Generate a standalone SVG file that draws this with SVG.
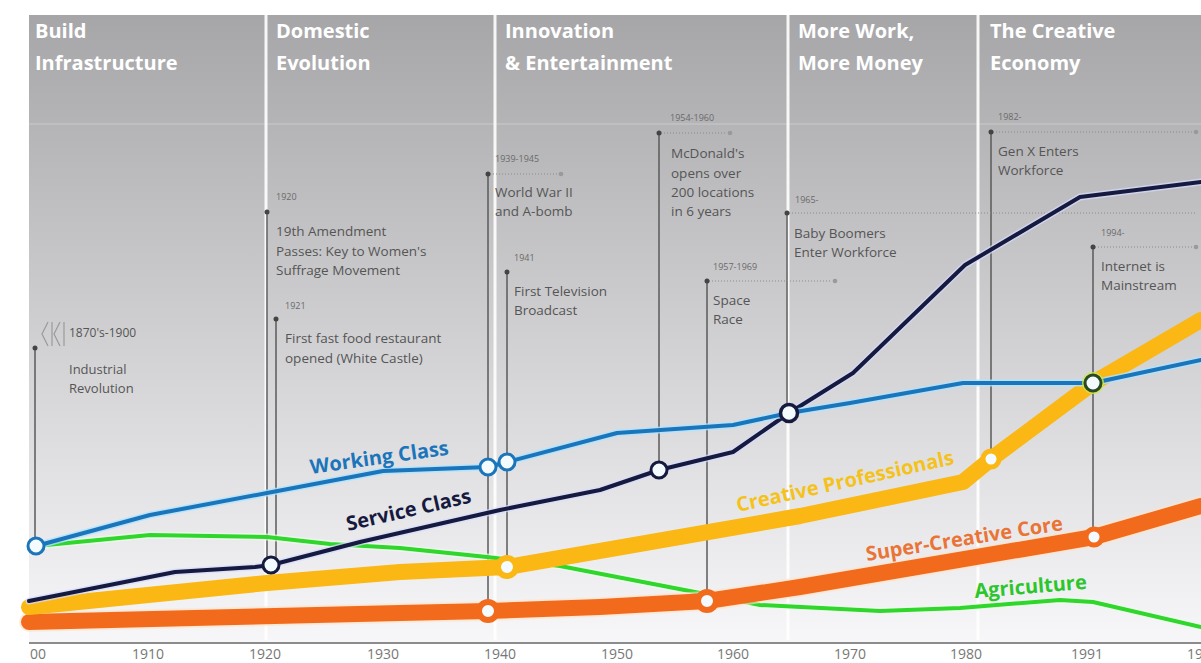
<svg xmlns="http://www.w3.org/2000/svg" width="1201" height="663" viewBox="0 0 1201 663">
<defs>
<linearGradient id="bg" x1="0" y1="15" x2="0" y2="642" gradientUnits="userSpaceOnUse">
<stop offset="0" stop-color="#a6a6a8"/>
<stop offset="0.35" stop-color="#c3c3c5"/>
<stop offset="0.7" stop-color="#dfdfe1"/>
<stop offset="1" stop-color="#f7f7f9"/>
</linearGradient>
</defs>
<style>
.era{font-family:"Open Sans",sans-serif;font-weight:700;font-size:20px;fill:#ffffff}
.eraline{stroke:#ffffff;stroke-width:3;opacity:0.9}
.date{font-family:"Open Sans",sans-serif;font-size:9px;fill:#6a6a6a}
.lbl{font-family:"Open Sans",sans-serif;font-size:13.5px;fill:#555}
.vline{stroke:#5a5a5a;stroke-width:1.5;fill:none}
.dot{fill:#444}
.dash{stroke:#8a8a8a;stroke-width:1;stroke-dasharray:1 2;fill:none}
.edot{fill:#999}
.series{fill:none;stroke-linejoin:round;stroke-linecap:round}
.clbl{font-family:"Open Sans",sans-serif;font-weight:700;font-size:20px}
.axis{font-family:"Open Sans",sans-serif;font-size:14px;fill:#777}
.mk{fill:#f4fbff}
</style>
<rect x="0" y="0" width="1201" height="663" fill="#ffffff"/>
<rect id="background" x="29" y="15" width="1172" height="627" fill="url(#bg)"/>
<line x1="29" y1="124" x2="1201" y2="124" stroke="#ffffff" stroke-width="2" opacity="0.15"/>

<g id="eras">
<line class="eraline" x1="266" y1="15" x2="266" y2="640"/>
<line class="eraline" x1="495" y1="15" x2="495" y2="640"/>
<line class="eraline" x1="788" y1="15" x2="788" y2="640"/>
<line class="eraline" x1="978" y1="15" x2="978" y2="640"/>
<g id="era-build"><text class="era" x="35" y="38">Build</text><text class="era" x="35" y="70">Infrastructure</text></g>
<g id="era-domestic"><text class="era" x="276" y="38">Domestic</text><text class="era" x="276" y="70">Evolution</text></g>
<g id="era-innovation"><text class="era" x="505" y="38">Innovation</text><text class="era" x="505" y="70">&amp; Entertainment</text></g>
<g id="era-morework"><text class="era" x="798" y="38">More Work,</text><text class="era" x="798" y="70">More Money</text></g>
<g id="era-creative"><text class="era" x="990" y="38">The Creative</text><text class="era" x="990" y="70">Economy</text></g>
</g>

<g id="connectors">
<line class="vline" x1="35" y1="348" x2="35" y2="540"/>
<line class="vline" x1="267" y1="212" x2="267" y2="560"/>
<line class="vline" x1="276" y1="319" x2="276" y2="560"/>
<line class="vline" x1="488" y1="174" x2="488" y2="605"/>
<line class="vline" x1="507" y1="272" x2="507" y2="560"/>
<line class="vline" x1="659" y1="133" x2="659" y2="464"/>
<line class="vline" x1="707" y1="281" x2="707" y2="595"/>
<line class="vline" x1="787" y1="213" x2="787" y2="407"/>
<line class="vline" x1="991" y1="132" x2="991" y2="453"/>
<line class="vline" x1="1093" y1="247" x2="1093" y2="531"/>
<line class="dash" x1="490" y1="174" x2="559" y2="174"/>
<line class="dash" x1="661" y1="133" x2="727" y2="133"/>
<line class="dash" x1="709" y1="281" x2="832" y2="281"/>
<line class="dash" x1="789" y1="213" x2="1195" y2="213"/>
<line class="dash" x1="993" y1="132" x2="1193" y2="132"/>
<line class="dash" x1="1095" y1="247" x2="1193" y2="247"/>
<circle class="edot" cx="561" cy="174" r="2.3"/>
<circle class="edot" cx="730" cy="133" r="2.3"/>
<circle class="edot" cx="835" cy="281" r="2.3"/>
<circle class="edot" cx="1196" cy="132" r="2.3"/>
<circle class="edot" cx="1196" cy="247" r="2.3"/>
<circle class="dot" cx="35" cy="348" r="2.5"/>
<circle class="dot" cx="267" cy="212" r="2.5"/>
<circle class="dot" cx="276" cy="319" r="2.5"/>
<circle class="dot" cx="488" cy="174" r="2.5"/>
<circle class="dot" cx="507" cy="272" r="2.5"/>
<circle class="dot" cx="659" cy="133" r="2.5"/>
<circle class="dot" cx="707" cy="281" r="2.5"/>
<circle class="dot" cx="787" cy="213" r="2.5"/>
<circle class="dot" cx="991" cy="132" r="2.5"/>
<circle class="dot" cx="1093" cy="247" r="2.5"/>
</g>

<g id="ann-industrial">
<g fill="none" stroke="#9a9a9a" stroke-width="1.2">
<polyline points="48,322 42,334 48,346"/><line x1="52" y1="322" x2="52" y2="346"/>
<polyline points="60,322 54,334 60,346"/><line x1="64" y1="322" x2="64" y2="346"/>
</g>
<text class="lbl" x="69" y="337" style="font-size:12px">1870's-1900</text>
<text class="lbl" x="69" y="374" style="font-size:13px">Industrial</text>
<text class="lbl" x="69" y="393" style="font-size:13px">Revolution</text>
</g>
<g id="ann-1920">
<text class="date" x="276" y="200">1920</text>
<text class="lbl" x="276" y="236">19th Amendment</text>
<text class="lbl" x="276" y="256">Passes: Key to Women's</text>
<text class="lbl" x="276" y="275">Suffrage Movement</text>
</g>
<g id="ann-1921">
<text class="date" x="285" y="309">1921</text>
<text class="lbl" x="285" y="343">First fast food restaurant</text>
<text class="lbl" x="285" y="363">opened (White Castle)</text>
</g>
<g id="ann-1939">
<text class="date" x="495" y="162">1939-1945</text>
<text class="lbl" x="495" y="197">World War II</text>
<text class="lbl" x="495" y="216">and A-bomb</text>
</g>
<g id="ann-1941">
<text class="date" x="514" y="261">1941</text>
<text class="lbl" x="514" y="296">First Television</text>
<text class="lbl" x="514" y="315">Broadcast</text>
</g>
<g id="ann-1954">
<text class="date" x="670" y="121">1954-1960</text>
<text class="lbl" x="671" y="158">McDonald's</text>
<text class="lbl" x="671" y="178">opens over</text>
<text class="lbl" x="671" y="197">200 locations</text>
<text class="lbl" x="671" y="216">in 6 years</text>
</g>
<g id="ann-1957">
<text class="date" x="713" y="270">1957-1969</text>
<text class="lbl" x="713" y="305">Space</text>
<text class="lbl" x="713" y="324">Race</text>
</g>
<g id="ann-1965">
<text class="date" x="795" y="203">1965-</text>
<text class="lbl" x="794" y="238">Baby Boomers</text>
<text class="lbl" x="794" y="257">Enter Workforce</text>
</g>
<g id="ann-1982">
<text class="date" x="998" y="120">1982-</text>
<text class="lbl" x="998" y="156">Gen X Enters</text>
<text class="lbl" x="998" y="175">Workforce</text>
</g>
<g id="ann-1994">
<text class="date" x="1101" y="236">1994-</text>
<text class="lbl" x="1101" y="271">Internet is</text>
<text class="lbl" x="1101" y="290">Mainstream</text>
</g>

<g id="series-agriculture">
<polyline class="series" stroke="#eaffea" stroke-width="7" opacity="0.7" points="36,546 150,535 267,537 330,544 400,548 487,557 560,566 700,593 760,605 880,611 960,608 1060,600 1093,602 1201,627"/>
<polyline class="series" stroke="#30d62b" stroke-width="4" points="36,546 150,535 267,537 330,544 400,548 487,557 560,566 700,593 760,605 880,611 960,608 1060,600 1093,602 1201,627"/>
</g>
<g id="series-supercreative">
<polyline class="series" stroke="#ffe3c8" stroke-width="20" opacity="0.6" points="29,622 400,613 488,611 600,607 707,601 800,587 1094,537 1201,506"/>
<polyline class="series" stroke="#f26b1d" stroke-width="16" points="29,622 400,613 488,611 600,607 707,601 800,587 1094,537 1201,506"/>
</g>
<g id="series-creative">
<polyline class="series" stroke="#fbb714" stroke-width="16" points="29,607 267,583 400,572 507,567 800,516 963,482 991,459 1093,383 1201,320"/>
</g>
<g id="series-service">
<polyline class="series" stroke="#d6dcff" stroke-width="7" opacity="0.7" points="29,601 175,572 255,567 271,565 360,542 500,510 600,490 659,470 733,452 789,413 853,373 965,265 1080,197 1201,182"/>
<polyline class="series" stroke="#161a3f" stroke-width="4" points="29,601 175,572 255,567 271,565 360,542 500,510 600,490 659,470 733,452 789,413 853,373 965,265 1080,197 1201,182"/>
</g>
<g id="series-working">
<polyline class="series" stroke="#aee4ff" stroke-width="7" opacity="0.8" points="36,546 150,515 267,493 383,471 488,467 507,462 617,433 733,425 789,413 850,403 963,383 1093,383 1201,360"/>
<polyline class="series" stroke="#1b75bb" stroke-width="4" points="36,546 150,515 267,493 383,471 488,467 507,462 617,433 733,425 789,413 850,403 963,383 1093,383 1201,360"/>
</g>

<g id="markers">
<circle class="mk" cx="36" cy="546" r="8" stroke="#1b75bb" stroke-width="3"/>
<circle class="mk" cx="271" cy="565" r="8" stroke="#161a3f" stroke-width="3"/>
<circle class="mk" cx="488" cy="467" r="8" stroke="#1b75bb" stroke-width="3"/>
<circle class="mk" cx="507" cy="462" r="8" stroke="#1b75bb" stroke-width="3"/>
<circle class="mk" cx="659" cy="470" r="8" stroke="#161a3f" stroke-width="3"/>
<circle class="mk" cx="789" cy="413" r="8.5" stroke="#161a3f" stroke-width="3.5"/>
<circle cx="1093" cy="383" r="11" fill="#c8e84a" opacity="0.8"/>
<circle class="mk" cx="1093" cy="383" r="8" stroke="#2c4a22" stroke-width="3"/>
<circle class="mk" cx="507" cy="567" r="9" stroke="#fbb714" stroke-width="6"/>
<circle class="mk" cx="991" cy="459" r="8" stroke="#fbb714" stroke-width="5"/>
<circle class="mk" cx="488" cy="611" r="9" stroke="#f26b1d" stroke-width="6"/>
<circle class="mk" cx="707" cy="601" r="9" stroke="#f26b1d" stroke-width="6"/>
<circle class="mk" cx="1094" cy="537" r="8" stroke="#f26b1d" stroke-width="5"/>
</g>

<g id="series-labels">
<text class="clbl" fill="#1b75bb" transform="translate(311,474) rotate(-8)">Working Class</text>
<text class="clbl" fill="#161a3f" transform="translate(348,531) rotate(-13)">Service Class</text>
<text class="clbl" fill="#f5c21b" transform="translate(738,512) rotate(-12.5)">Creative Professionals</text>
<text class="clbl" fill="#ea7436" transform="translate(867,561) rotate(-9)">Super-Creative Core</text>
<text class="clbl" fill="#2cc62c" transform="translate(975,598) rotate(-4.7)">Agriculture</text>
</g>

<g id="axis">
<line x1="29" y1="643" x2="1201" y2="643" stroke="#8c8c8c" stroke-width="2"/>
<text class="axis" x="30" y="659">00</text>
<text class="axis" x="148" y="659" text-anchor="middle">1910</text>
<text class="axis" x="265" y="659" text-anchor="middle">1920</text>
<text class="axis" x="383" y="659" text-anchor="middle">1930</text>
<text class="axis" x="500" y="659" text-anchor="middle">1940</text>
<text class="axis" x="617" y="659" text-anchor="middle">1950</text>
<text class="axis" x="733" y="659" text-anchor="middle">1960</text>
<text class="axis" x="850" y="659" text-anchor="middle">1970</text>
<text class="axis" x="966" y="659" text-anchor="middle">1980</text>
<text class="axis" x="1087" y="659" text-anchor="middle">1991</text>
<text class="axis" x="1187" y="659">19</text>
</g>
</svg>
